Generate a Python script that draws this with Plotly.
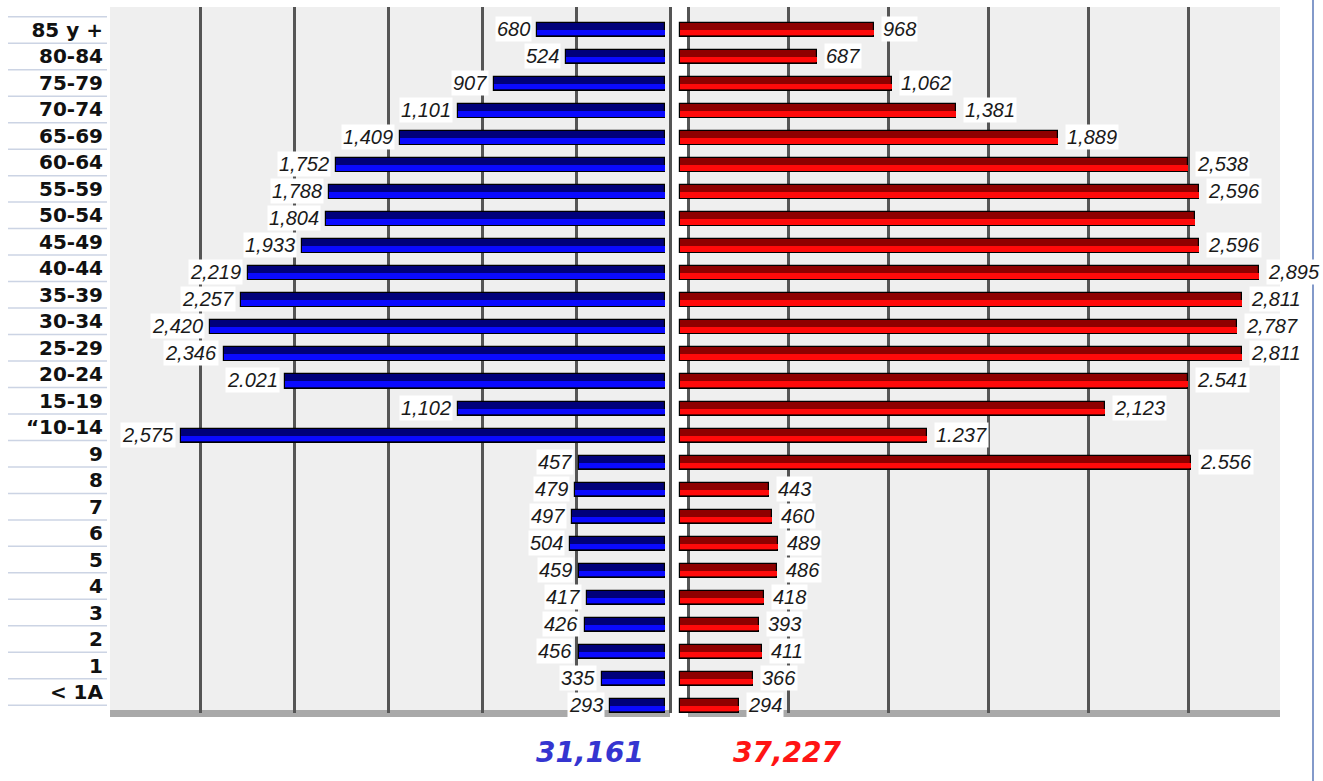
import plotly.graph_objects as go

# Age groups, listed from the oldest (top row) to the youngest (bottom row)
AGE_GROUPS = [
    "85 y +", "80-84", "75-79", "70-74", "65-69", "60-64", "55-59", "50-54",
    "45-49", "40-44", "35-39", "30-34", "25-29", "20-24", "15-19", "\u201c10-14",
    "9", "8", "7", "6", "5", "4", "3", "2", "1", "< 1A",
]

# Left side (blue) population per age group
MALES = [680, 524, 907, 1101, 1409, 1752, 1788, 1804, 1933, 2219, 2257, 2420,
         2346, 2021, 1102, 2575, 457, 479, 497, 504, 459, 417, 426, 456, 335, 293]

# Right side (red) population per age group
FEMALES = [968, 687, 1062, 1381, 1889, 2538, 2596, 2575, 2596, 2895, 2811, 2787,
           2811, 2541, 2123, 1237, 2556, 443, 460, 489, 486, 418, 393, 411, 366, 294]

# Thousands separator used by each printed value ("" = value not printed)
MALE_SEP = [",", ",", ",", ",", ",", ",", ",", ",", ",", ",", ",", ",",
            ",", ".", ",", ",", ",", ",", ",", ",", ",", ",", ",", ",", ",", ","]
FEMALE_SEP = [",", ",", ",", ",", ",", ",", ",", "", ",", ",", ",", ",",
              ",", ".", ",", ".", ".", ",", ",", ",", ",", ",", ",", ",", ",", ","]

TOTALS = [31161, 37227]

W, H = 1323, 781
N = len(AGE_GROUPS)
rows = [N - 1 - k for k in range(N)]          # numeric row position, top = N-1


def px_x(p):
    return p / W


def px_y(p):
    return 1 - p / H


def fmt(v, sep):
    return f"{v:,}".replace(",", sep)


PLOT_TOP, PLOT_BOTTOM = 7, 713
LEFT_X0, LEFT_ZERO = 110, 670          # left panel edge and its zero line (px)
RIGHT_ZERO, RIGHT_X1 = 688, 1280       # right panel zero line and edge (px)
LEFT_DOM1, RIGHT_DOM0 = 676, 677       # panels meet inside the white gap
BG = "#efefef"
GRID = "#555555"

LEFT_SCALE = 0.188    # px per person, left panel
RIGHT_SCALE = 0.2     # px per person, right panel

# Perspective offset of the 3-D bars relative to the grid plane (px)
LEFT_DEPTH_PX, RIGHT_DEPTH_PX = 5, 8
left_base = LEFT_DEPTH_PX / LEFT_SCALE
right_base = -RIGHT_DEPTH_PX / RIGHT_SCALE

BLUE_TOP, BLUE_FRONT = "#00007a", "#0a0aff"
RED_TOP, RED_FRONT = "#8e0000", "#ff0a0a"

fig = go.Figure()

# 3-D looking bars: a dark full-height body plus a brighter front face
for xs, base, xa, ya, top_c, front_c in [
    (MALES, left_base, "x", "y", BLUE_TOP, BLUE_FRONT),
    (FEMALES, right_base, "x2", "y2", RED_TOP, RED_FRONT),
]:
    fig.add_trace(go.Bar(
        x=xs, y=rows, base=base, orientation="h", xaxis=xa, yaxis=ya,
        width=0.52, offset=-0.26,
        marker=dict(color=top_c, line=dict(color="#000000", width=1.2)),
        hoverinfo="skip", showlegend=False,
    ))
    fig.add_trace(go.Bar(
        x=xs, y=rows, base=base, orientation="h", xaxis=xa, yaxis=ya,
        width=0.2, offset=-0.2,
        marker=dict(color=front_c, line=dict(width=0)),
        hoverinfo="skip", showlegend=False,
    ))

# Value labels on white boxes at the end of each bar
label_font = dict(family="Liberation Sans, Arial, sans-serif", size=20,
                  color="#1a1a1a", style="italic")
annotations = []
for v, r, sep in zip(MALES, rows, MALE_SEP):
    if sep:
        annotations.append(dict(
            x=v + left_base, y=r, xref="x", yref="y", text=fmt(v, sep),
            showarrow=False, xanchor="right", yanchor="middle",
            xshift=-5, yshift=1,
            bgcolor="white", borderpad=1, font=label_font,
        ))
for v, r, sep in zip(FEMALES, rows, FEMALE_SEP):
    if sep:
        annotations.append(dict(
            x=v + right_base, y=r, xref="x2", yref="y2", text=fmt(v, sep),
            showarrow=False, xanchor="left", yanchor="middle",
            xshift=7, yshift=1,
            bgcolor="white", borderpad=1, font=label_font,
        ))

# Totals under each side
total_font = dict(family="DejaVu Sans, Verdana, sans-serif", size=28,
                  weight="bold", style="italic")
for total, cx, col in [(TOTALS[0], 590, "#3535d0"), (TOTALS[1], 787, "#ff1414")]:
    annotations.append(dict(
        x=px_x(cx), y=px_y(752), xref="paper", yref="paper",
        text=f"{total:,}", showarrow=False, xanchor="center", yanchor="middle",
        font=dict(color=col, **total_font),
    ))

shapes = []
# Grey back walls of both panels
for x0, x1 in [(LEFT_X0, LEFT_ZERO), (RIGHT_ZERO, RIGHT_X1)]:
    shapes.append(dict(
        type="rect", xref="paper", yref="paper",
        x0=px_x(x0), x1=px_x(x1), y0=px_y(PLOT_BOTTOM), y1=px_y(PLOT_TOP),
        fillcolor=BG, line=dict(width=0), layer="below",
    ))
    # floor strip
    shapes.append(dict(
        type="rect", xref="paper", yref="paper",
        x0=px_x(x0), x1=px_x(x1), y0=px_y(717), y1=px_y(710),
        fillcolor="#a9a9a9", line=dict(width=0), layer="below",
    ))
# Separator rules between the age-group labels
for k in range(-1, N):
    shapes.append(dict(
        type="line", xref="paper", yref="y3",
        x0=px_x(8), x1=px_x(107), y0=k + 0.5, y1=k + 0.5,
        line=dict(color="#ccd4e4", width=1.5), layer="below",
    ))
# Right frame rule
shapes.append(dict(
    type="line", xref="paper", yref="paper",
    x0=px_x(1313), x1=px_x(1313), y0=0, y1=1,
    line=dict(color="#5a78b8", width=1.5),
))

ydom = [px_y(PLOT_BOTTOM), px_y(PLOT_TOP)]
bar_units = (PLOT_BOTTOM - PLOT_TOP) / 27.04
y_lo = -0.26
y_hi = y_lo + bar_units

lab_lo = -0.793
lab_hi = lab_lo + (PLOT_BOTTOM - PLOT_TOP) / 26.48

left_range = [(LEFT_ZERO - LEFT_X0) / LEFT_SCALE,
              -(LEFT_DOM1 - LEFT_ZERO) / LEFT_SCALE]
right_range = [-(RIGHT_ZERO - RIGHT_DOM0) / RIGHT_SCALE,
               (RIGHT_X1 - RIGHT_ZERO) / RIGHT_SCALE]

axis_common = dict(showticklabels=False, ticks="", showline=False,
                   zeroline=False, tick0=0, dtick=500, showgrid=True,
                   gridcolor=GRID, gridwidth=3, fixedrange=True)

fig.update_layout(
    width=W, height=H,
    margin=dict(l=0, r=0, t=0, b=0),
    paper_bgcolor="white", plot_bgcolor="rgba(0,0,0,0)",
    barmode="overlay", bargap=0,
    xaxis=dict(domain=[px_x(LEFT_X0), px_x(LEFT_DOM1)], range=left_range,
               anchor="y", **axis_common),
    xaxis2=dict(domain=[px_x(RIGHT_DOM0), px_x(RIGHT_X1)], range=right_range,
                anchor="y2", **axis_common),
    yaxis=dict(domain=ydom, range=[y_lo, y_hi], anchor="x",
               showticklabels=False, showgrid=False, zeroline=False,
               ticks="", fixedrange=True),
    yaxis2=dict(domain=ydom, range=[y_lo, y_hi], anchor="x2",
                showticklabels=False, showgrid=False, zeroline=False,
                ticks="", fixedrange=True),
    yaxis3=dict(overlaying="y", anchor="free", position=px_x(LEFT_X0),
                side="left", range=[lab_lo, lab_hi],
                tickmode="array", tickvals=rows, ticktext=AGE_GROUPS,
                showgrid=False, zeroline=False, showline=False, ticks="",
                ticklabelstandoff=7,
                tickfont=dict(family="DejaVu Sans, Verdana, sans-serif",
                              size=20, color="#111111", weight="bold"),
                fixedrange=True),
    annotations=annotations,
    shapes=shapes,
)

fig.write_html("out.html")
